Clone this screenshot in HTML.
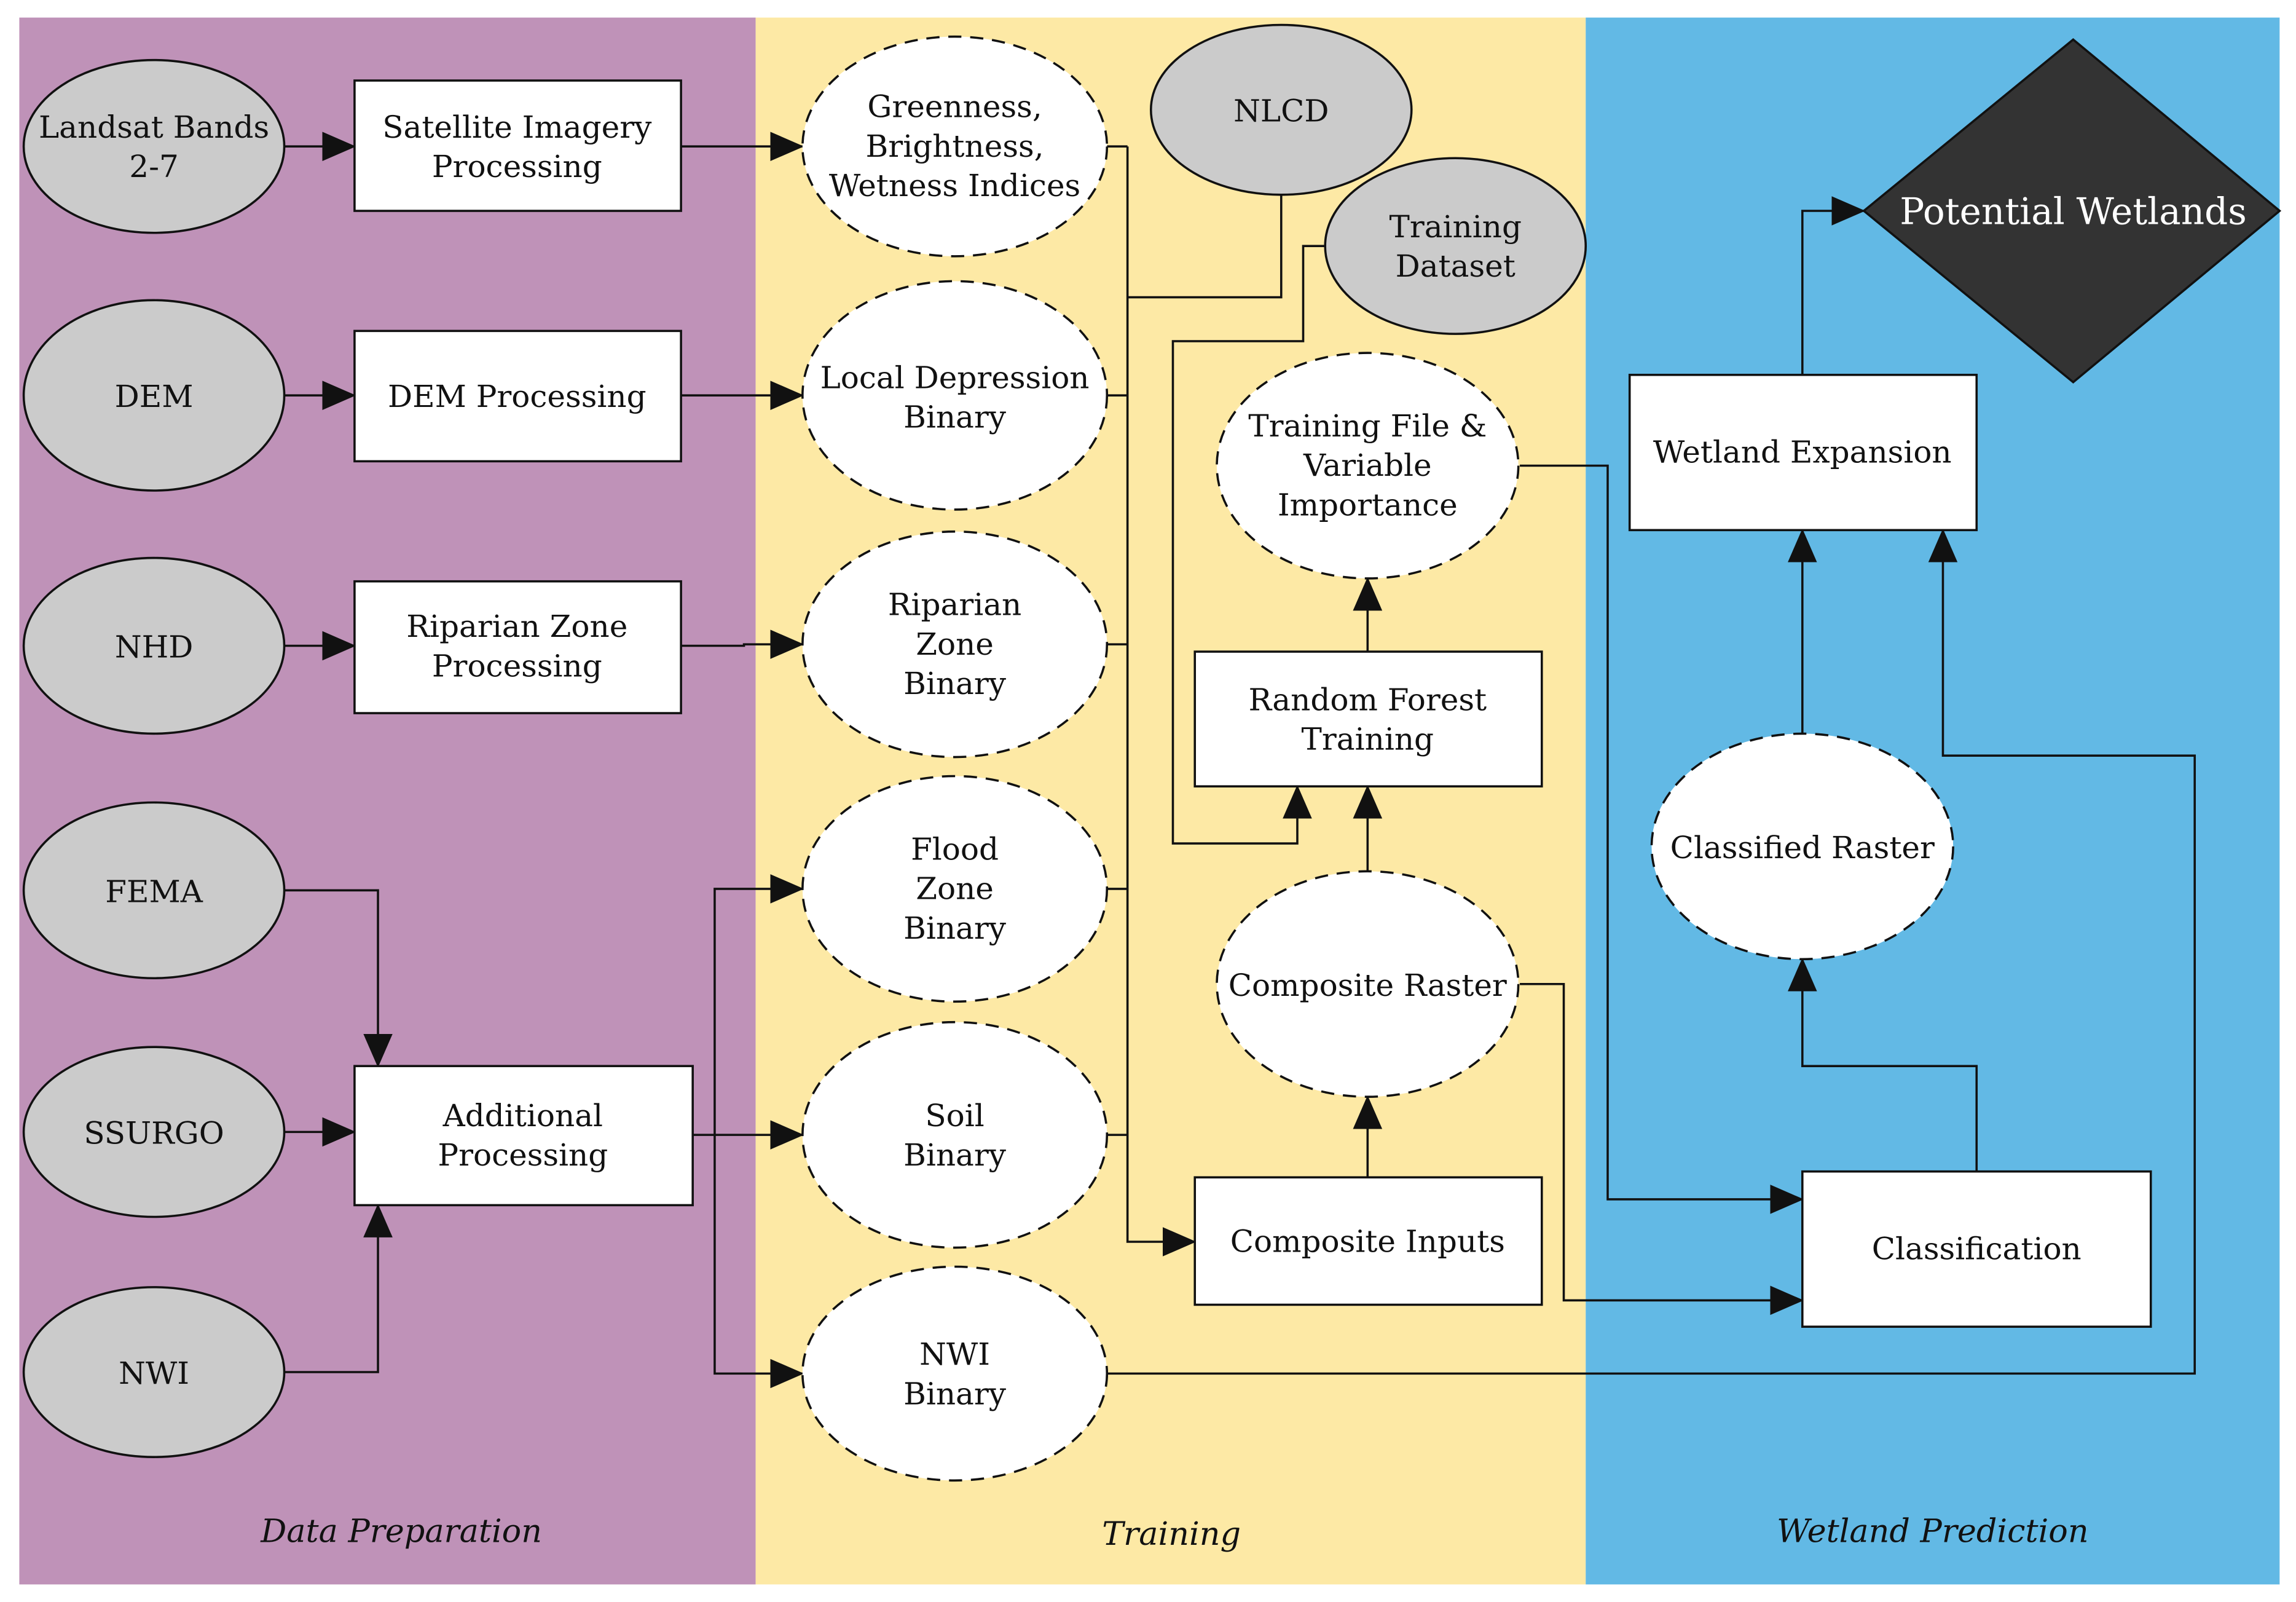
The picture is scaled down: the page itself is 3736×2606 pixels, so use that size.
<!DOCTYPE html>
<html><head><meta charset="utf-8"><style>
html,body{margin:0;padding:0;background:#fff;}
svg{display:block;}
text{font-family:"DejaVu Serif","Liberation Serif",serif;font-size:21px;fill:#111;text-anchor:middle;}
.i{font-style:italic;font-size:22px;}
.g{fill:#cbcbcb;stroke:#111;stroke-width:1.5;}
.d{fill:#fff;stroke:#111;stroke-width:1.5;stroke-dasharray:9,6;}
.r{fill:#fff;stroke:#111;stroke-width:1.5;}
.l{fill:none;stroke:#111;stroke-width:1.5;}
</style></head><body>
<svg width="3736" height="2606" viewBox="0 0 1568 1094" xmlns="http://www.w3.org/2000/svg">
<defs><marker id="a" markerWidth="12" markerHeight="10" refX="11" refY="5" orient="auto" markerUnits="userSpaceOnUse"><path d="M0,0 L12,5 L0,10 z" fill="#111"/></marker>
<marker id="b" markerWidth="24" markerHeight="20" refX="22" refY="10" orient="auto" markerUnits="userSpaceOnUse"><path d="M0,0 L23,10 L0,20 z" fill="#111"/></marker></defs>
<rect x="13" y="12" width="503" height="1070" fill="#bf92b8"/>
<rect x="516" y="12" width="567" height="1070" fill="#fde9a5"/>
<rect x="1083" y="12" width="474" height="1070" fill="#62b9e5"/>

<!-- connectors -->
<g class="l">
<path d="M194,100H242" marker-end="url(#b)"/>
<path d="M465,100H548" marker-end="url(#b)"/>
<path d="M194,270H242" marker-end="url(#b)"/>
<path d="M465,270H548" marker-end="url(#b)"/>
<path d="M194,441H242" marker-end="url(#b)"/>
<path d="M465,441H508V440H548" marker-end="url(#b)"/>
<path d="M194,608H258V728" marker-end="url(#b)"/>
<path d="M194,773H242" marker-end="url(#b)"/>
<path d="M194,937H258V823" marker-end="url(#b)"/>
<path d="M473,775H548" marker-end="url(#b)"/>
<path d="M488,775V607H548" marker-end="url(#b)"/>
<path d="M488,775V938H548" marker-end="url(#b)"/>
<path d="M756,100H770M756,270H770M756,440H770M756,607H770M756,775H770"/>
<path d="M770,100V848H816" marker-end="url(#b)"/>
<path d="M875,133V203H770"/>
<path d="M905,168H890V233H801V576H886V537" marker-end="url(#b)"/>
<path d="M934,595V537" marker-end="url(#b)"/>
<path d="M934,445V395" marker-end="url(#b)"/>
<path d="M934,804V749" marker-end="url(#b)"/>
<path d="M1038,318H1098V819H1231" marker-end="url(#b)"/>
<path d="M1038,672H1068V888H1231" marker-end="url(#b)"/>
<path d="M1350,800V728H1231V655" marker-end="url(#b)"/>
<path d="M1231,501V362" marker-end="url(#b)"/>
<path d="M756,938H1499V516H1327V362" marker-end="url(#b)"/>
<path d="M1231,256V144H1273" marker-end="url(#b)"/>
</g>

<!-- gray ellipses -->
<ellipse class="g" cx="105" cy="100" rx="89" ry="59"/>
<ellipse class="g" cx="105" cy="270" rx="89" ry="65"/>
<ellipse class="g" cx="105" cy="441" rx="89" ry="60"/>
<ellipse class="g" cx="105" cy="608" rx="89" ry="60"/>
<ellipse class="g" cx="105" cy="773" rx="89" ry="58"/>
<ellipse class="g" cx="105" cy="937" rx="89" ry="58"/>
<ellipse class="g" cx="875" cy="75" rx="89" ry="58"/>
<ellipse class="g" cx="994" cy="168" rx="89" ry="60"/>

<!-- rects -->
<rect class="r" x="242" y="55" width="223" height="89"/>
<rect class="r" x="242" y="226" width="223" height="89"/>
<rect class="r" x="242" y="397" width="223" height="90"/>
<rect class="r" x="242" y="728" width="231" height="95"/>
<rect class="r" x="816" y="445" width="237" height="92"/>
<rect class="r" x="816" y="804" width="237" height="87"/>
<rect class="r" x="1113" y="256" width="237" height="106"/>
<rect class="r" x="1231" y="800" width="238" height="106"/>

<!-- dashed ellipses -->
<ellipse class="d" cx="652" cy="100" rx="104" ry="75"/>
<ellipse class="d" cx="652" cy="270" rx="104" ry="78"/>
<ellipse class="d" cx="652" cy="440" rx="104" ry="77"/>
<ellipse class="d" cx="652" cy="607" rx="104" ry="77"/>
<ellipse class="d" cx="652" cy="775" rx="104" ry="77"/>
<ellipse class="d" cx="652" cy="938" rx="104" ry="73"/>
<ellipse class="d" cx="934" cy="318" rx="103" ry="77"/>
<ellipse class="d" cx="934" cy="672" rx="103" ry="77"/>
<ellipse class="d" cx="1231" cy="578" rx="103" ry="77"/>

<polygon points="1416,27 1557,144 1416,261 1273,144" fill="#333" stroke="#111" stroke-width="1.5"/>

<!-- labels -->
<text x="105" y="94">Landsat Bands</text><text x="105" y="121">2-7</text>
<text x="105" y="278">DEM</text>
<text x="105" y="449">NHD</text>
<text x="105" y="616">FEMA</text>
<text x="105" y="781">SSURGO</text>
<text x="105" y="945">NWI</text>
<text x="875" y="83">NLCD</text>
<text x="994" y="162">Training</text><text x="994" y="189">Dataset</text>
<text x="353" y="94">Satellite Imagery</text><text x="353" y="121">Processing</text>
<text x="353" y="278">DEM Processing</text>
<text x="353" y="435">Riparian Zone</text><text x="353" y="462">Processing</text>
<text x="357" y="769">Additional</text><text x="357" y="796">Processing</text>
<text x="652" y="80">Greenness,</text><text x="652" y="107">Brightness,</text><text x="652" y="134">Wetness Indices</text>
<text x="652" y="265">Local Depression</text><text x="652" y="292">Binary</text>
<text x="652" y="420">Riparian</text><text x="652" y="447">Zone</text><text x="652" y="474">Binary</text>
<text x="652" y="587">Flood</text><text x="652" y="614">Zone</text><text x="652" y="641">Binary</text>
<text x="652" y="769">Soil</text><text x="652" y="796">Binary</text>
<text x="652" y="932">NWI</text><text x="652" y="959">Binary</text>
<text x="934" y="298">Training File &amp;</text><text x="934" y="325">Variable</text><text x="934" y="352">Importance</text>
<text x="934" y="485">Random Forest</text><text x="934" y="512">Training</text>
<text x="934" y="680">Composite Raster</text>
<text x="934" y="855">Composite Inputs</text>
<text x="1231" y="316">Wetland Expansion</text>
<text x="1231" y="586">Classified Raster</text>
<text x="1350" y="860">Classification</text>
<text x="1416" y="153" style="fill:#fff;font-size:25px">Potential Wetlands</text>
<text class="i" x="274" y="1053">Data Preparation</text>
<text class="i" x="800" y="1055">Training</text>
<text class="i" x="1320" y="1053">Wetland Prediction</text>
</svg>
</body></html>
